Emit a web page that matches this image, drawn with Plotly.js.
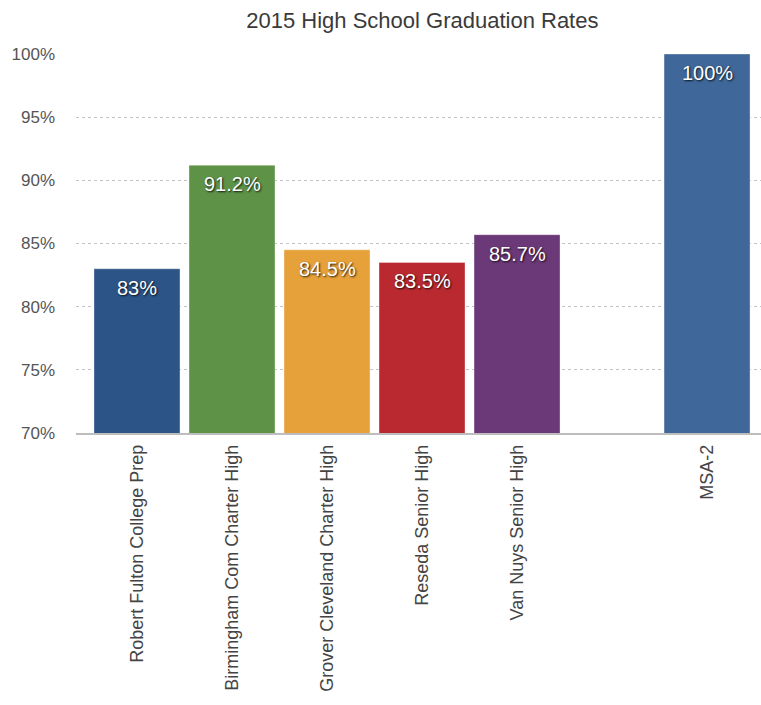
<!DOCTYPE html>
<html>
<head>
<meta charset="utf-8">
<script src="https://cdn.plot.ly/plotly-3.0.1.min.js"></script>
<style>html,body{margin:0;padding:0;background:#fff;}#chart{width:761px;height:705px;}</style>
</head>
<body>
<div id="chart"></div>
<script>
const schools = ["Robert Fulton College Prep", "Birmingham Com Charter High", "Grover Cleveland Charter High", "Reseda Senior High", "Van Nuys Senior High", "MSA-2"];
const rates = [83, 91.2, 84.5, 83.5, 85.7, 100];
const rateLabels = ["83%", "91.2%", "84.5%", "83.5%", "85.7%", "100%"];
const barColors = ["#2c5487", "#5e9347", "#e6a13a", "#ba292f", "#6b3878", "#3f6799"];
const categoryOrder = ["Robert Fulton College Prep", "Birmingham Com Charter High", "Grover Cleveland Charter High", "Reseda Senior High", "Van Nuys Senior High", " ", "MSA-2"];
const yTicks = [70, 75, 80, 85, 90, 95, 100];
const yTickText = ["70%", "75%", "80%", "85%", "90%", "95%", "100%"];

const FONT = "Liberation Sans, Arial, Helvetica, sans-serif";

const valueAnnotations = schools.map((s, i) => ({
  x: s, y: rates[i], xref: "x", yref: "y",
  text: rateLabels[i], showarrow: false,
  xanchor: "center", yanchor: "middle", yshift: -19,
  font: {family: FONT, size: 20, color: "#ffffff", shadow: "1px 1px 2px rgba(0,0,0,0.85)"}
}));

Plotly.newPlot("chart", [{
  type: "bar",
  x: schools,
  y: rates,
  marker: {color: barColors, line: {color: "rgba(255,255,255,0.35)", width: 1}},
  hoverinfo: "skip"
}], {
  width: 761, height: 705,
  margin: {l: 76, r: 0, t: 54, b: 272},
  paper_bgcolor: "#ffffff",
  plot_bgcolor: "#ffffff",
  showlegend: false,
  bargap: 0.095,
  annotations: valueAnnotations,
  title: {text: "2015 High School Graduation Rates", x: 0.555, xanchor: "center", y: 0.971, yanchor: "middle",
          font: {family: FONT, size: 22, color: "#3a3a3a", weight: 500}},
  xaxis: {
    type: "category",
    categoryorder: "array",
    categoryarray: categoryOrder,
    range: [-0.642, 6.568],
    tickangle: -90,
    tickfont: {family: FONT, size: 18, color: "#444444"},
    showgrid: false,
    showline: true,
    linecolor: "#bdbdbd",
    linewidth: 1.5,
    ticks: "",
    ticklabelstandoff: 3,
    zeroline: false,
    fixedrange: true
  },
  yaxis: {
    range: [70, 100],
    tickvals: yTicks,
    ticktext: yTickText,
    tickfont: {family: FONT, size: 17, color: "#555555"},
    showgrid: true,
    gridcolor: "#c2c2c2",
    griddash: "dot",
    gridwidth: 1,
    zeroline: false,
    showline: false,
    ticks: "",
    ticklabelstandoff: 20,
    fixedrange: true
  }
}, {displayModeBar: false, staticPlot: true});
</script>
</body>
</html>
